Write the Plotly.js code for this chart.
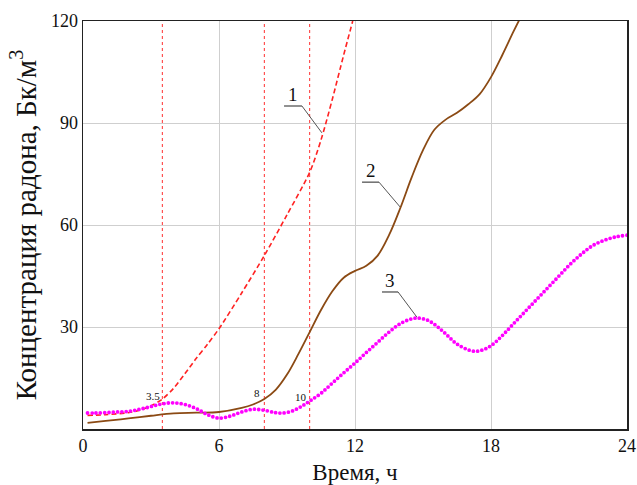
<!DOCTYPE html>
<html>
<head>
<meta charset="utf-8">
<script src="https://cdn.plot.ly/plotly-3.0.1.min.js"></script>
<style>
html,body{margin:0;padding:0;background:#fff;}
#chart{width:637px;height:485px;}
.scatterlayer .trace:nth-child(3) path.js-line{stroke-linecap:round !important;}
</style>
</head>
<body>
<div id="chart"></div>
<script>
// Curve 1 (red dashed)
var x1 = [0.2, 1, 2, 2.5, 3, 3.5, 4, 4.5, 5, 5.5, 6, 7, 8, 9, 10, 10.5, 11, 11.5, 11.9];
var y1 = [4.0, 4.2, 4.8, 5.5, 6.8, 8.8, 12.0, 16.3, 20.8, 25, 29.5, 40, 51, 63, 75.5, 85, 97, 110, 120];
// Curve 2 (brown solid)
var x2 = [0.2, 1, 2, 3, 4, 5, 6, 7, 7.5, 8, 8.5, 9, 9.5, 10, 10.5, 11, 11.5, 12, 12.5, 13, 13.5, 14, 14.5, 15, 15.5, 16, 16.5, 17, 17.5, 18, 18.5, 19, 19.3];
var y2 = [1.8, 2.4, 3.1, 3.9, 4.6, 4.8, 5.0, 6.2, 7.2, 8.8, 11.5, 16, 22, 28.5, 35, 40.5, 44.5, 46.5, 48, 51, 57, 65, 74, 82, 88, 91, 93, 95.5, 98.5, 103.5, 110, 117, 121];
// Curve 3 (magenta dotted)
var x3 = [0.2, 0.5, 1, 1.5, 2, 2.5, 3, 3.5, 4, 4.5, 5, 5.5, 6, 6.5, 7, 7.5, 8, 8.5, 8.8, 9.2, 9.6, 10, 10.5, 11, 11.5, 12, 12.5, 13, 13.5, 14, 14.5, 14.8, 15.2, 15.6, 16, 16.5, 17.2, 17.6, 18, 18.5, 19, 19.5, 20, 20.5, 21, 21.5, 22, 22.5, 23, 23.5, 24];
var y3 = [4.7, 4.7, 4.8, 5.0, 5.2, 5.8, 6.6, 7.4, 7.7, 7.2, 6.0, 4.2, 3.2, 3.8, 5.0, 5.8, 5.5, 4.8, 4.7, 5.2, 6.5, 8.2, 10.5, 13.5, 16.5, 19.4, 22.5, 25.5, 28.5, 31, 32.4, 32.6, 32, 30.3, 28, 25, 22.9, 23.2, 24.5, 27.5, 31, 34.5, 38, 41.5, 45, 48.5, 51.5, 54, 55.5, 56.5, 57];
// Vertical markers
var vLines = [3.5, 8, 10];
var vLabels = ['3.5', '8', '10'];
var vLabelX = [3.09, 7.68, 9.62];
var vLabelY = [9.7, 10.6, 9.4];
// Curve numbers
var curveNames = ['1', '2', '3'];
var xTicks = [0, 6, 12, 18, 24];
var yTicks = [30, 60, 90, 120];

var serif = 'Liberation Serif';

var traces = [
  {x: x1, y: y1, mode: 'lines', line: {color: '#ff2222', width: 1.6, dash: '5px,3px', shape: 'spline', smoothing: 0.8}, hoverinfo: 'none'},
  {x: x2, y: y2, mode: 'lines', line: {color: '#8b4a14', width: 1.8, shape: 'spline'}, hoverinfo: 'none'},
  {x: x3, y: y3, mode: 'lines', line: {color: '#ff00ff', width: 3.8, dash: '0px,4.3px', shape: 'spline'}, hoverinfo: 'none'}
];

var shapes = [];
vLines.forEach(function (v) {
  shapes.push({type: 'line', xref: 'x', yref: 'y', x0: v, x1: v, y0: 0, y1: 120,
    line: {color: '#ff3030', width: 1, dash: '3px,3px'}, layer: 'below'});
});
// leader lines for curve numbers
var leaders = [
  [[8.87, 95.0], [9.66, 95.0], [10.54, 87.1]],
  [[12.31, 72.6], [13.06, 72.6], [13.99, 65.3]],
  [[13.19, 40.3], [13.90, 40.3], [14.73, 32.9]]
];
leaders.forEach(function (L) {
  shapes.push({type: 'line', xref: 'x', yref: 'y', x0: L[0][0], y0: L[0][1], x1: L[1][0], y1: L[1][1], line: {color: '#555', width: 1.3}});
  shapes.push({type: 'line', xref: 'x', yref: 'y', x0: L[1][0], y0: L[1][1], x1: L[2][0], y1: L[2][1], line: {color: '#555', width: 1}});
});

var annotations = [];
leaders.forEach(function (L, i) {
  annotations.push({xref: 'x', yref: 'y', x: (L[0][0] + L[1][0]) / 2, y: L[0][1], text: curveNames[i],
    showarrow: false, yanchor: 'bottom', xanchor: 'center', yshift: -1,
    font: {family: serif, size: 19, color: '#111'}});
});
vLabels.forEach(function (t, i) {
  annotations.push({xref: 'x', yref: 'y', x: vLabelX[i], y: vLabelY[i], text: t, showarrow: false,
    font: {family: serif, size: 11, color: '#111'}});
});

var layout = {
  width: 637, height: 485,
  margin: {l: 83, r: 10, t: 21, b: 56},
  paper_bgcolor: '#fff', plot_bgcolor: '#fff',
  showlegend: false,
  font: {family: serif},
  xaxis: {
    range: [0, 24], tickvals: xTicks, ticktext: xTicks.map(String),
    showgrid: true, gridcolor: '#cfcfcf', gridwidth: 1, zeroline: false,
    showline: true, linecolor: '#222', linewidth: 1.5, mirror: true,
    ticks: '', tickfont: {family: serif, size: 18, color: '#111'},
    title: {text: 'Время, ч', font: {family: serif, size: 23, color: '#111'}, standoff: 9}
  },
  yaxis: {
    range: [0, 120], tickvals: yTicks, ticktext: yTicks.map(String),
    showgrid: true, gridcolor: '#cfcfcf', gridwidth: 1, zeroline: false,
    showline: true, linecolor: '#222', linewidth: 1.5, mirror: true,
    ticks: '', tickfont: {family: serif, size: 18, color: '#111'},
    title: {text: 'Концентрация радона, Бк/м<sup>3</sup>', font: {family: serif, size: 29, color: '#111'}, standoff: 6}
  },
  shapes: shapes,
  annotations: annotations
};

Plotly.newPlot('chart', traces, layout, {staticPlot: true, displayModeBar: false});
</script>
</body>
</html>
